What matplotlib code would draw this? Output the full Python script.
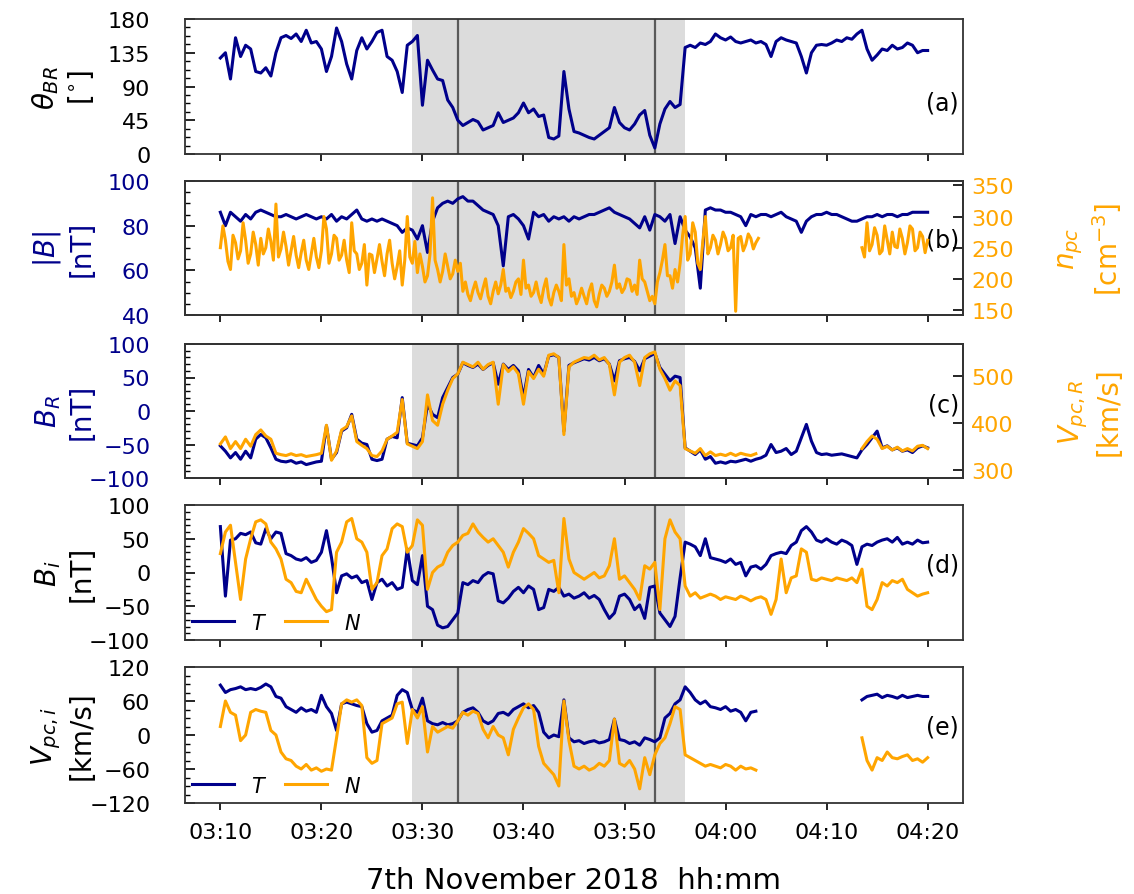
import numpy as np
import matplotlib
matplotlib.use("Agg")
import matplotlib.pyplot as plt
import matplotlib.dates as mdates
from matplotlib.ticker import AutoMinorLocator, MultipleLocator
from datetime import datetime, timedelta

nan = np.nan
# sampling grids: minutes after 03:10
minutes = np.arange(0, 70.5, 0.5)      # 30 s
minutes_n = np.arange(0, 70.25, 0.25)  # 15 s (density)

theta_BR = [128, 135, 100, 155, 130, 145, 140, 110, 108, 115,
            104, 135, 155, 158, 154, 160, 150, 165, 148, 150,
            140, 110, 130, 168, 150, 120, 100, 138, 155, 140,
            150, 162, 165, 130, 125, 110, 82, 145, 150, 158,
            65, 125, 112, 100, 98, 72, 62, 45, 38, 42,
            46, 43, 32, 35, 38, 55, 42, 45, 48, 55,
            68, 55, 60, 50, 52, 22, 20, 24, 110, 60,
            30, 28, 25, 22, 20, 25, 30, 35, 62, 42,
            35, 32, 40, 52, 58, 25, 8, 40, 60, 70,
            62, 66, 142, 145, 142, 148, 146, 150, 160, 155,
            152, 156, 150, 148, 150, 152, 148, 150, 146, 130,
            150, 155, 152, 150, 148, 130, 108, 135, 145, 146,
            145, 148, 152, 150, 155, 153, 160, 165, 140, 125,
            132, 140, 138, 145, 140, 142, 148, 145, 135, 138,
            138]

B_mag = [86, 80, 86, 84, 82, 85, 83, 86, 87, 86,
         85, 84, 84, 85, 84, 83, 84, 85, 84, 83,
         84, 83, 85, 82, 84, 83, 85, 87, 83, 82,
         83, 82, 83, 82, 81, 80, 77, 79, 78, 74,
         80, 68, 82, 88, 90, 91, 90, 92, 93, 91,
         91, 89, 87, 86, 85, 80, 62, 84, 85, 83,
         80, 74, 86, 84, 85, 82, 84, 83, 84, 82,
         84, 83, 84, 85, 85, 86, 87, 88, 86, 85,
         84, 83, 81, 79, 84, 78, 85, 84, 82, 85,
         72, 84, 78, 75, 70, 52, 87, 88, 87, 87,
         86, 86, 85, 84, 80, 85, 84, 85, 85, 84,
         85, 86, 84, 83, 82, 77, 82, 84, 85, 85,
         86, 85, 85, 84, 83, 82, 82, 83, 84, 84,
         85, 84, 85, 85, 84, 85, 85, 86, 86, 86,
         86]

n_pc = [250, 285, 262, 228, 215, 270, 258, 232, 245, 290, 262, 225, 240, 275, 255, 222, 265, 240, 250, 280,
        260, 230, 320, 235, 248, 275, 252, 222, 245, 268, 238, 218, 242, 262, 230, 215, 240, 265, 235, 218,
        245, 300, 280, 225, 240, 270, 265, 230, 238, 262, 230, 210, 290, 245, 240, 215, 225, 255, 190, 240,
        238, 210, 232, 255, 228, 205, 240, 262, 225, 200, 220, 245, 190, 230, 300, 235, 225, 260, 210, 240,
        220, 195, 205, 240, 330, 230, 215, 195, 212, 240, 220, 200, 208, 230, 212, 225, 180, 195, 175, 165,
        182, 195, 178, 168, 185, 200, 172, 160, 180, 195, 176, 190, 215, 180, 185, 170, 180, 195, 200, 175,
        230, 185, 190, 172, 178, 195, 175, 162, 185, 200, 170, 158, 178, 190, 180, 165, 255, 190, 200, 172,
        178, 160, 170, 185, 172, 160, 180, 192, 165, 155, 175, 190, 185, 172, 180, 195, 222, 185, 192, 178,
        185, 200, 198, 180, 190, 175, 230, 200, 195, 180, 165, 172, 160, 195, 210, 230, 255, 205, 205, 185,
        215, 195, 225, 270, 300, 230, 240, 290, 275, 225, 215, 260, 300, 240, 250, 270, 262, 240, 255, 275,
        265, 245, 250, 270, 148, 265, 268, 245, 255, 272, 265, 248, 258, 265, nan, nan, nan, nan, nan, nan,
        nan, nan, nan, nan, nan, nan, nan, nan, nan, nan, nan, nan, nan, nan, nan, nan, nan, nan, nan, nan,
        nan, nan, nan, nan, nan, nan, nan, nan, nan, nan, nan, nan, nan, nan, 250, 235, 290, 245, 255, 282,
        270, 240, 245, 285, 262, 240, 275, 252, 250, 280, 265, 240, 258, 285, 280, 245, 250, 275, 268, 242,
        262]

B_R = [-52, -60, -70, -62, -72, -60, -70, -42, -35, -40,
       -55, -72, -75, -76, -74, -78, -76, -80, -78, -76,
       -75, -22, -72, -62, -30, -25, -5, -42, -48, -50,
       -72, -74, -72, -42, -38, -40, 20, -48, -50, -52,
       -40, 10, -5, -10, 20, 35, 50, 55, 72, 68,
       65, 70, 62, 68, 72, 40, 70, 62, 68, 60,
       20, 62, 50, 68, 55, 82, 84, 80, -30, 68,
       72, 75, 78, 76, 80, 75, 78, 70, 45, 75,
       78, 80, 74, 60, 78, 82, 86, 65, 55, 45,
       52, 50, -55, -60, -65, -58, -72, -68, -78, -76,
       -78, -75, -76, -74, -72, -75, -72, -70, -66, -50,
       -62, -60, -56, -65, -60, -40, -20, -45, -62, -65,
       -64, -66, -65, -64, -66, -68, -70, -58, -50, -40,
       -30, -55, -52, -58, -55, -60, -58, -62, -55, -52,
       -55]

V_R = [355, 370, 345, 360, 345, 365, 350, 375, 385, 372,
       365, 335, 332, 330, 334, 330, 332, 328, 330, 332,
       335, 395, 320, 340, 385, 392, 415, 360, 352, 345,
       330, 328, 340, 365, 372, 380, 450, 355, 350, 345,
       360, 460, 405, 395, 440, 470, 495, 505, 530, 525,
       520, 530, 515, 525, 530, 440, 525, 510, 520, 505,
       440, 510, 495, 515, 500, 545, 548, 540, 375, 520,
       530, 535, 540, 538, 545, 535, 540, 525, 460, 530,
       540, 545, 530, 480, 540, 548, 552, 515, 495, 470,
       490, 480, 345, 340, 335, 345, 330, 338, 330, 333,
       330, 335, 330, 335, 332, 330, 334, nan, nan, nan,
       nan, nan, nan, nan, nan, nan, nan, nan, nan, nan,
       nan, nan, nan, nan, nan, nan, nan, 345, 360, 372,
       365, 345, 350, 342, 348, 340, 345, 340, 350, 352,
       345]

B_T = [68, -35, 48, 50, 58, 56, 60, 44, 42, 65,
       50, 60, 58, 28, 25, 20, 18, 22, 15, 18,
       30, 62, 22, -30, -5, -2, -8, -5, -15, -12,
       -40, -15, -10, -20, -15, -25, -22, 35, -12, -18,
       25, -50, -55, -78, -82, -80, -70, -60, -15, -18,
       -12, -15, -5, 0, -2, -42, -45, -38, -28, -22,
       -30, -20, -25, -55, -52, -25, -28, -22, -35, -32,
       -38, -35, -30, -38, -34, -40, -55, -68, -60, -35,
       -32, -40, -55, -48, -68, -22, -20, -60, -70, -80,
       -65, -8, 45, 42, 38, 25, 50, 22, 20, 18,
       15, 20, 12, 15, -5, 8, 10, 5, 12, 25,
       28, 30, 28, 40, 45, 62, 68, 60, 48, 45,
       50, 45, 42, 48, 45, 40, 12, 38, 42, 40,
       45, 48, 50, 45, 52, 42, 45, 42, 48, 44,
       45]

B_N = [28, 60, 70, 15, -40, 20, 50, 75, 78, 72,
       45, 35, 20, -10, -15, -28, -30, -10, -25, -40,
       -50, -58, -55, 30, 45, 75, 80, 50, 45, 30,
       -25, -15, 25, 35, 65, 72, 68, 30, 40, 78,
       70, -25, 0, 8, 12, 30, 40, 45, 55, 58,
       72, 60, 52, 45, 50, 40, 30, 8, 30, 45,
       65, 58, 50, 25, 20, 15, 18, -30, 80, 20,
       0, -5, -10, -5, 0, -8, -5, 10, 50, -10,
       -5, -15, -25, -40, 10, 5, 15, -55, 50, 78,
       60, 50, -20, -35, -30, -38, -35, -32, -35, -40,
       -36, -38, -40, -35, -38, -42, -38, -36, -40, -62,
       -40, 20, -30, -8, -5, 35, 30, -10, -12, -8,
       -10, -12, -8, -10, -12, -8, -15, 5, -50, -55,
       -40, -15, -20, -12, -15, -10, -25, -30, -35, -32,
       -30]

V_T = [88, 75, 80, 82, 85, 80, 82, 80, 84, 90,
       85, 68, 65, 50, 45, 40, 48, 42, 45, 40,
       70, 50, 38, 8, 55, 58, 55, 52, 50, 20,
       5, 8, 25, 30, 35, 70, 80, 75, 45, 40,
       65, 25, 20, 18, 22, 18, 20, 25, 40, 45,
       48, 40, 25, 20, 25, 38, 40, 35, 45, 50,
       55, 48, 52, 40, 5, -5, 0, -3, 62, -5,
       -12, -10, -15, -12, -10, -14, -12, -8, 28, -8,
       -10, -15, -12, -18, -5, -8, -12, -5, 30, 38,
       55, 62, 85, 75, 62, 55, 60, 50, 48, 45,
       50, 42, 45, 40, 25, 40, 42, nan, nan, nan,
       nan, nan, nan, nan, nan, nan, nan, nan, nan, nan,
       nan, nan, nan, nan, nan, nan, nan, 62, 68, 70,
       72, 66, 70, 68, 65, 70, 66, 68, 70, 68,
       68]

V_N = [15, 60, 40, 35, -10, 0, 40, 45, 42, 40,
       8, 0, -30, -42, -45, -55, -60, -52, -62, -58,
       -64, -60, -62, -5, 55, 62, 58, 62, 52, -40,
       -50, -45, 20, 25, 30, 55, 58, -15, 45, 30,
       50, -30, 15, 5, 10, 15, 12, 25, 40, 35,
       42, 38, 10, -5, 15, 0, -5, -35, 10, 30,
       48, 55, 45, -20, -50, -60, -70, -90, 60, -10,
       -55, -60, -55, -62, -58, -50, -55, -45, 28, -50,
       -55, -45, -60, -95, -40, -70, -35, -15, -5, 20,
       50, 45, -35, -40, -45, -50, -55, -52, -55, -58,
       -52, -55, -62, -55, -60, -58, -62, nan, nan, nan,
       nan, nan, nan, nan, nan, nan, nan, nan, nan, nan,
       nan, nan, nan, nan, nan, nan, nan, -5, -45, -62,
       -40, -45, -30, -40, -42, -38, -35, -45, -42, -48,
       -40]

panel_letters = ["(a)", "(b)", "(c)", "(d)", "(e)"]

# ---------------------------------------------------------------
plt.rcParams["font.family"] = ["DejaVu Sans"]
plt.rcParams["mathtext.fontset"] = "dejavusans"
TICKFS = 16
LABFS = 20
plt.rcParams.update({
    "ytick.direction": "in",
    "ytick.major.pad": 25,
    "ytick.major.size": 7,
    "ytick.major.width": 1.2,
    "ytick.minor.size": 3.5,
    "ytick.minor.width": 1.0,
    "ytick.labelsize": TICKFS,
    "xtick.direction": "out",
    "xtick.major.size": 5,
    "xtick.major.width": 1.2,
    "xtick.major.pad": 9,
    "xtick.labelsize": TICKFS,
})

BLUE = "#00008b"
ORANGE = "#ffa500"
LW = 2.2

base = datetime(2018, 11, 7, 3, 10)
t = [base + timedelta(minutes=float(m)) for m in minutes]
tn = [base + timedelta(minutes=float(m)) for m in minutes_n]

fig = plt.figure(figsize=(11.34, 8.95), dpi=100)
L, W = 185 / 1134, 778 / 1134
rows = [(20, 155), (182, 316), (345, 479), (506, 641), (668, 804)]
axes = []
for top, bot in rows:
    axes.append(fig.add_axes([L, 1 - bot / 895, W, (bot - top) / 895]))

xlo = base - timedelta(minutes=3.5)
xhi = base + timedelta(minutes=73.5)
shade0 = base + timedelta(minutes=19.0)
shade1 = base + timedelta(minutes=46.0)
vl0 = base + timedelta(minutes=23.5)
vl1 = base + timedelta(minutes=43.0)

for i, ax in enumerate(axes):
    ax.set_xlim(xlo, xhi)
    ax.axvspan(shade0, shade1, color="#dcdcdc", zorder=0, lw=0)
    for v in (vl0, vl1):
        ax.axvline(v, color="#5a5a5a", lw=1.6, zorder=1)
    ax.xaxis.set_major_locator(mdates.MinuteLocator(byminute=[0, 10, 20, 30, 40, 50]))
    ax.xaxis.set_major_formatter(mdates.DateFormatter("%H:%M"))
    ax.yaxis.set_minor_locator(AutoMinorLocator())
    ax.tick_params(axis="x", labelbottom=(i == 4))
    for s in ax.spines.values():
        s.set_linewidth(1.3)
        s.set_color("#333333")
    ax.text(0.995, [0.385, 0.567, 0.55, 0.56, 0.566][i], panel_letters[i],
            transform=ax.transAxes, ha="right", va="center", fontsize=17)

# (a)
ax = axes[0]
ax.plot(t, theta_BR, color=BLUE, lw=LW, zorder=3)
ax.set_ylim(0, 180)
ax.yaxis.set_major_locator(MultipleLocator(45))
ax.set_ylabel("$\\theta_{BR}$\n[$^{\\circ}$]", fontsize=LABFS)

# (b)
ax = axes[1]
ax.plot(t, B_mag, color=BLUE, lw=LW, zorder=3)
ax.set_ylim(40, 100)
ax.yaxis.set_major_locator(MultipleLocator(20))
ax.set_ylabel("$|B|$\n[nT]", fontsize=LABFS, color=BLUE)
ax.tick_params(axis="y", labelcolor=BLUE)

# (c)
ax = axes[2]
ax.plot(t, B_R, color=BLUE, lw=LW, zorder=3)
ax.set_ylim(-100, 100)
ax.yaxis.set_major_locator(MultipleLocator(50))
ax.set_ylabel("$B_R$\n[nT]", fontsize=LABFS, color=BLUE)
ax.tick_params(axis="y", labelcolor=BLUE)

# (d)
ax = axes[3]
ax.plot(t, B_T, color=BLUE, lw=LW, label="$T$", zorder=3)
ax.plot(t, B_N, color=ORANGE, lw=LW, label="$N$", zorder=3)
ax.set_ylim(-100, 100)
ax.yaxis.set_major_locator(MultipleLocator(50))
ax.set_ylabel("$B_i$\n[nT]", fontsize=LABFS)

# (e)
ax = axes[4]
ax.plot(t, V_T, color=BLUE, lw=LW, label="$T$", zorder=3)
ax.plot(t, V_N, color=ORANGE, lw=LW, label="$N$", zorder=3)
ax.set_ylim(-120, 120)
ax.yaxis.set_major_locator(MultipleLocator(60))
ax.set_ylabel("$V_{pc,i}$\n[km/s]", fontsize=LABFS)
ax.set_xlabel("7th November 2018  hh:mm", fontsize=21, labelpad=17)

for ax in axes[3:]:
    ax.legend(loc="lower left", ncol=2, frameon=False, fontsize=15, handlelength=2.0,
              borderaxespad=0.15, borderpad=0.2, columnspacing=0.9, handletextpad=0.8)

for ax in axes:
    ax.yaxis.set_label_coords(-0.115, 0.5)

# right-hand axes (smaller label pad)
plt.rcParams["ytick.major.pad"] = 6
axr = axes[1].twinx()
axr.plot(tn, n_pc, color=ORANGE, lw=LW, zorder=2)
axr.set_ylim(142, 357)
axr.yaxis.set_major_locator(MultipleLocator(50))
axr.set_ylabel("$n_{pc}$\n[cm$^{-3}$]", fontsize=LABFS, color=ORANGE)

axr2 = axes[2].twinx()
axr2.plot(t, V_R, color=ORANGE, lw=LW, zorder=4)
axr2.set_ylim(282, 569)
axr2.yaxis.set_major_locator(MultipleLocator(100))
axr2.set_ylabel("$V_{pc,R}$\n[km/s]", fontsize=LABFS, color=ORANGE)

for a in (axr, axr2):
    a.set_xlim(xlo, xhi)
    a.tick_params(axis="y", labelcolor=ORANGE)
    a.yaxis.set_label_coords(1.12, 0.5)
    for s in a.spines.values():
        s.set_linewidth(1.3)
        s.set_color("#333333")

fig.savefig("out.png", dpi=100)
